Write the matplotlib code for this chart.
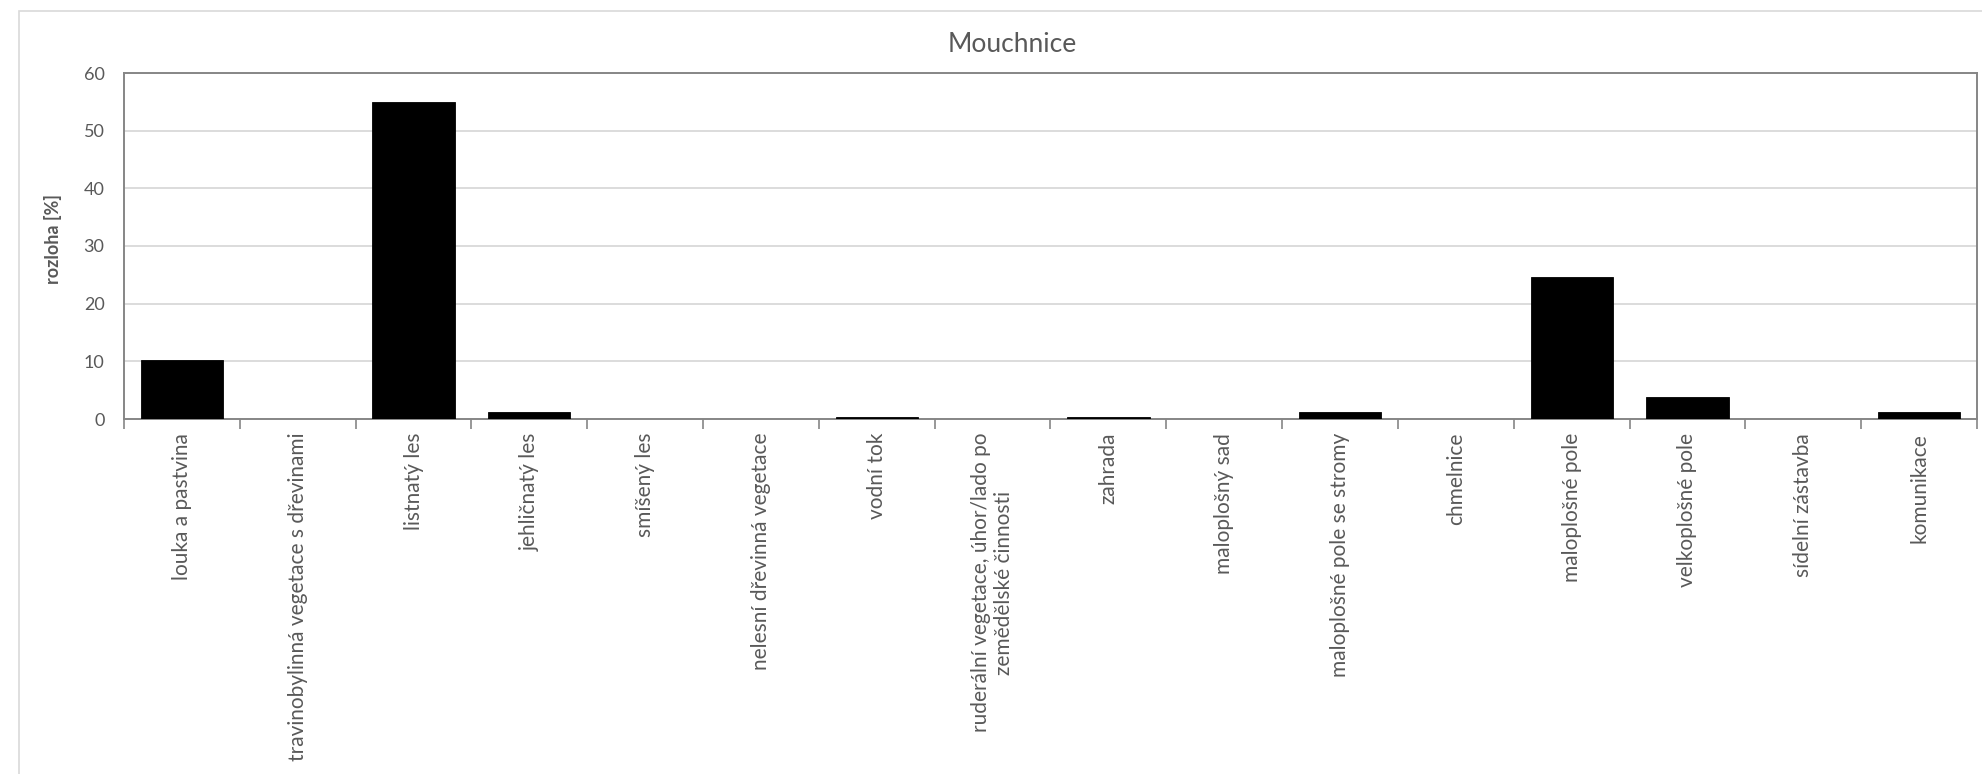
import numpy as np
import matplotlib
matplotlib.use("Agg")
import matplotlib.pyplot as plt
from matplotlib.patches import Rectangle

# land cover categories and their share (%) for Mouchnice
categories = [
    "louka a pastvina",
    "travinobylinná vegetace s dřevinami",
    "listnatý les",
    "jehličnatý les",
    "smíšený les",
    "nelesní dřevinná vegetace",
    "vodní tok",
    "ruderální vegetace, úhor/lado po\nzemědělské činnosti",
    "zahrada",
    "maloplošný sad",
    "maloplošné pole se stromy",
    "chmelnice",
    "maloplošné pole",
    "velkoplošné pole",
    "sídelní zástavba",
    "komunikace",
]
values = [10.2, 0, 54.9, 1.3, 0, 0, 0.35, 0, 0.35, 0, 1.3, 0, 24.7, 3.8, 0, 1.3]
yticks = [0, 10, 20, 30, 40, 50, 60]

plt.rcParams['font.family'] = ['Lato', 'DejaVu Sans']
text_grey = '#595959'
axis_grey = '#868686'
grid_grey = '#d9d9d9'

W, H = 1983, 774
fig = plt.figure(figsize=(W / 100, H / 100), dpi=100)
ax = fig.add_axes([124 / W, 1 - 419 / H, (1977 - 124) / W, (419 - 73) / H])

# outer chart border (clipped on right/bottom like the original)
fig.patches.append(Rectangle((19 / W, -0.1), 1.2, 1 - 11 / H + 0.1,
                             transform=fig.transFigure, fill=False,
                             edgecolor=grid_grey, linewidth=1.2))

x = np.arange(len(categories))
ax.bar(x, values, width=0.71, color='black', edgecolor='black', linewidth=0.6, zorder=3)

ax.set_xlim(-0.5, len(categories) - 0.5)
ax.set_ylim(0, 60)
ax.set_yticks(yticks)
ax.yaxis.grid(True, color=grid_grey, linewidth=1.3, zorder=0)
ax.tick_params(axis='y', length=0, pad=14, labelsize=13, labelcolor=text_grey)

# tick marks between categories, labels at centres
ax.set_xticks(np.arange(len(categories) + 1) - 0.5)
ax.set_xticklabels([])
ax.tick_params(axis='x', which='major', length=7, width=1.2, color=axis_grey, direction='out')
ax.set_xticks(x, minor=True)
ax.set_xticklabels(categories, minor=True, rotation=90, fontsize=15,
                   color=text_grey, va='top', ha='center', multialignment='center')
ax.tick_params(axis='x', which='minor', length=0, pad=10)

for s in ax.spines.values():
    s.set_color(axis_grey)
    s.set_linewidth(1.4)

ax.set_ylabel('rozloha [%]', fontsize=13, fontweight='bold', color=text_grey)
ax.yaxis.set_label_coords(-0.0335, 0.52)

fig.text(1012 / W, 1 - 45 / H, 'Mouchnice', fontsize=19, color=text_grey,
         ha='center', va='center')

fig.savefig('out.png', dpi=100)
